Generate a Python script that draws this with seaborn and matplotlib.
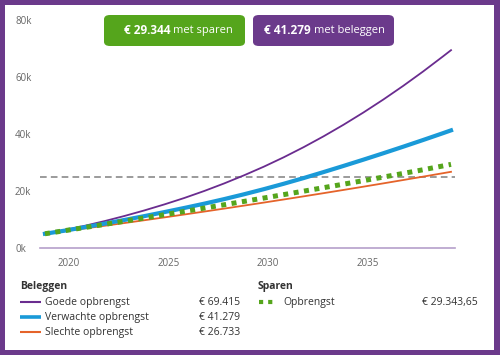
import pandas as pd
import seaborn as sns
import matplotlib.pyplot as plt
from matplotlib.patches import Rectangle, FancyBboxPatch
from matplotlib.lines import Line2D

# data (values in euro)
years = [2018.8, 2019.8, 2020.8, 2021.8, 2022.8, 2023.8, 2024.8, 2025.8, 2026.8,
         2027.8, 2028.8, 2029.8, 2030.8, 2031.8, 2032.8, 2033.8, 2034.8, 2035.8,
         2036.8, 2037.8, 2038.8, 2039.2]
goed = [5000, 6300, 7800, 9450, 11250, 13200, 15300, 17550, 20000, 22650, 25500,
        28550, 31850, 35400, 39200, 43250, 47550, 52100, 56900, 61950, 67250, 69415]
verwacht = [5000, 6100, 7300, 8550, 9850, 11200, 12600, 14050, 15550, 17150, 18850,
            20650, 22550, 24550, 26650, 28800, 31000, 33250, 35550, 37900, 40300, 41279]
slecht = [5000, 5920, 6855, 7805, 8770, 9750, 10745, 11755, 12780, 13820, 14875,
          15945, 17030, 18130, 19245, 20375, 21520, 22680, 23855, 25045, 26250, 26733]
sparen = [5000, 6090, 7190, 8300, 9420, 10550, 11690, 12840, 14000, 15170, 16350,
          17540, 18740, 19950, 21170, 22400, 23640, 24890, 26170, 27460, 28800, 29344]
doel = 25000

x_ticks = [2020, 2025, 2030, 2035]
y_ticks = [0, 20000, 40000, 60000, 80000]
y_labels = ["0k", "20k", "40k", "60k", "80k"]

beleggen_labels = ["Goede opbrengst", "Verwachte opbrengst", "Slechte opbrengst"]
beleggen_values = ["€ 69.415", "€ 41.279", "€ 26.733"]
sparen_label = "Opbrengst"
sparen_value = "€ 29.343,65"

PURPLE = "#6b3a8b"
LINE_PURPLE = "#6a2c8f"
BLUE = "#1a9ad8"
ORANGE = "#e5632a"
GREEN = "#55a51c"
TXT = "#333333"

plt.rcParams["font.family"] = ["Open Sans", "DejaVu Sans"]

W, H = 500, 355
fig = plt.figure(figsize=(5, 3.55), dpi=100, facecolor=PURPLE)


def fx(px):
    return px / W


def fy(py):
    return 1 - py / H


# white panel inside purple frame
fig.patches.append(Rectangle((fx(5), fy(350)), fx(489), 345 / H,
                             transform=fig.transFigure, facecolor="white",
                             edgecolor="none", zorder=-5))

ax = fig.add_axes([fx(40), fy(248), fx(415), (248 - 20) / H])
ax.set_facecolor("none")
ax.set_zorder(2)

df = pd.DataFrame({"jaar": years, "goed": goed, "verwacht": verwacht,
                   "slecht": slecht, "sparen": sparen})

sns.lineplot(data=df, x="jaar", y="goed", color=LINE_PURPLE, lw=1.3, ax=ax)
sns.lineplot(data=df, x="jaar", y="slecht", color=ORANGE, lw=1.3, ax=ax)
sns.lineplot(data=df, x="jaar", y="verwacht", color=BLUE, lw=3.0, ax=ax)
sns.lineplot(data=df, x="jaar", y="sparen", color=GREEN, lw=3.6,
             linestyle=(0, (1, 1.1)), ax=ax)
ax.axhline(doel, color="#8a8a8a", lw=1.2, ls=(0, (4, 2.5)), zorder=1)

ax.set_xlim(2018.55, 2039.4)
ax.set_ylim(0, 80000)
ax.set_xticks(x_ticks)
ax.set_xticklabels([str(t) for t in x_ticks])
ax.set_yticks(y_ticks)
ax.set_yticklabels(y_labels, ha="left")
ax.tick_params(axis="both", length=0, labelsize=7, colors="#666666")
ax.tick_params(axis="y", pad=18)
ax.tick_params(axis="x", pad=7)
ax.set_xlabel("")
ax.set_ylabel("")
for s in ["top", "right", "left"]:
    ax.spines[s].set_visible(False)
ax.spines["bottom"].set_color("#b59fcb")
ax.spines["bottom"].set_linewidth(1.2)

# buttons on top
for x0, x1, col, bold, rest, split in [
        (104, 245, GREEN, "€ 29.344", "met sparen", 170),
        (253, 394, PURPLE, "€ 41.279", "met beleggen", 311)]:
    fig.patches.append(FancyBboxPatch((fx(x0), fy(46)), fx(x1 - x0), 31 / H,
                                      boxstyle="round,pad=0,rounding_size=0.012",
                                      transform=fig.transFigure, facecolor=col,
                                      edgecolor="none", zorder=3))
    fig.text(fx(split), fy(31), bold, color="white", fontsize=8.5, fontweight="bold",
             ha="right", va="center", zorder=4)
    fig.text(fx(split + 3), fy(31), rest, color="white", fontsize=8,
             ha="left", va="center", zorder=4)

# legend
fig.text(fx(20), fy(286), "Beleggen", color=TXT, fontsize=7.5, fontweight="bold",
         va="center")
fig.text(fx(258), fy(286), "Sparen", color=TXT, fontsize=7.5, fontweight="bold",
         va="center")
rows = [302, 317, 332]
for lab, val, col, lw, r in zip(beleggen_labels, beleggen_values,
                               [LINE_PURPLE, BLUE, ORANGE], [1.5, 2.6, 1.5], rows):
    fig.lines.append(Line2D([fx(20), fx(41)], [fy(r), fy(r)], color=col, lw=lw,
                            solid_capstyle="butt", transform=fig.transFigure))
    fig.text(fx(45), fy(r + 0.5), lab, color=TXT, fontsize=7.5, va="center")
    fig.text(fx(240), fy(r + 0.5), val, color=TXT, fontsize=7.5, va="center",
             ha="right")

fig.lines.append(Line2D([fx(259), fx(273)], [fy(302), fy(302)], color=GREEN, lw=3,
                        linestyle=(0, (1, 1.2)), transform=fig.transFigure))
fig.text(fx(283), fy(302.5), sparen_label, color=TXT, fontsize=7.5, va="center")
fig.text(fx(478), fy(302.5), sparen_value, color=TXT, fontsize=7.5, va="center",
         ha="right")

fig.savefig("out.png", dpi=100, facecolor=PURPLE)
